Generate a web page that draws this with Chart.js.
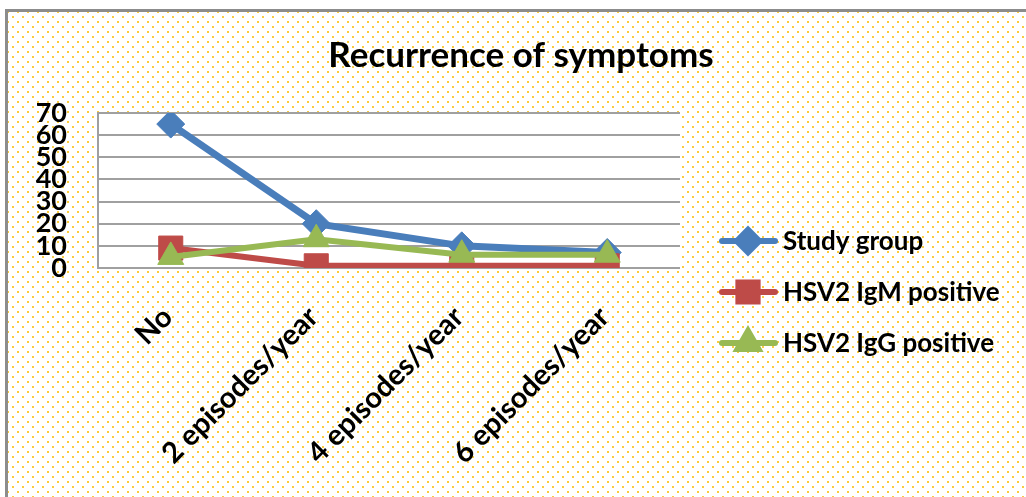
<!DOCTYPE html>
<html lang="en">
<head>
  <meta charset="UTF-8">
  <title>Recurrence of symptoms</title>
  <script src="https://cdn.jsdelivr.net/npm/chart.js"></script>
  <style>
    body { margin: 0; background: #fff; overflow: hidden; }
    #frame {
      position: absolute; left: 5px; top: 9px; width: 1100px; height: 600px;
      border-left: 3px solid #8c8c8c; border-top: 3px solid #8c8c8c;
      background-color: #fff;
      background-image:
        radial-gradient(circle, #fbcb3c 0.9px, transparent 1.3px),
        radial-gradient(circle, #fbcb3c 0.9px, transparent 1.3px);
      background-size: 10px 10px, 10px 10px;
      background-position: 0 0, 5px 5px;
    }
    #chart { position: absolute; left: 0; top: 0; }
  </style>
</head>
<body>
  <div id="frame"></div>
  <canvas id="chart" width="1026" height="497"></canvas>

  <script>
    const chartTitle = 'Recurrence of symptoms';
    const categories = ['No', '2 episodes/year', '4 episodes/year', '6 episodes/year'];
    const seriesNames = ['Study group', 'HSV2 IgM positive', 'HSV2 IgG positive'];
    const studyGroup = [65, 20, 10, 7];
    const igmPositive = [9, 1, 1, 1];
    const iggPositive = [5, 13, 6, 6];
    const yTicks = [0, 10, 20, 30, 40, 50, 60, 70];

    const font = 'Lato, "Open Sans", sans-serif';
    const colors = ['#4a7ebb', '#be4b48', '#98b954'];

    // white plot area + title + legend
    const decor = {
      id: 'decor',
      beforeDraw(chart) {
        const { ctx, chartArea: a } = chart;
        ctx.save();
        ctx.fillStyle = '#fff';
        ctx.fillRect(a.left, a.top, a.right - a.left, a.bottom - a.top);
        ctx.restore();
      },
      afterDraw(chart) {
        const { ctx, chartArea: a } = chart;
        ctx.save();
        ctx.fillStyle = '#000';
        ctx.font = 'bold 35px ' + font;
        ctx.textAlign = 'center';
        ctx.textBaseline = 'middle';
        ctx.fillText(chartTitle, 521, 56);

        chart.data.datasets.forEach((ds, i) => {
          const y = 241 + i * 51;
          const x0 = a.right + 42;
          ctx.strokeStyle = ds.borderColor;
          ctx.lineWidth = 6;
          ctx.lineCap = 'round';
          ctx.beginPath();
          ctx.moveTo(x0, y);
          ctx.lineTo(x0 + 53, y);
          ctx.stroke();
          Chart.helpers.drawPoint(ctx, {
            pointStyle: ds.pointStyle,
            radius: ds.pointRadius * 0.8,
            borderWidth: 1,
            rotation: 0
          }, x0 + 26, y);
          ctx.fillStyle = ds.borderColor;
          ctx.fill();
          ctx.fillStyle = '#000';
          ctx.font = 'bold 26px ' + font;
          ctx.textAlign = 'left';
          ctx.textBaseline = 'middle';
          ctx.fillText(ds.label, x0 + 61, y + 1);
        });
        ctx.restore();
      }
    };

    function series(i, data, style, radius, width, order) {
      return {
        label: seriesNames[i], data,
        borderColor: colors[i], backgroundColor: colors[i],
        borderWidth: width, pointStyle: style, pointRadius: radius,
        pointBorderWidth: 1, pointHoverRadius: radius, order
      };
    }

    new Chart(document.getElementById('chart'), {
      type: 'line',
      data: {
        labels: categories,
        datasets: [
          series(0, studyGroup, 'rectRot', 14, 7, 3),
          series(1, igmPositive, 'rect', 17, 6, 2),
          series(2, iggPositive, 'triangle', 15, 6, 1)
        ]
      },
      options: {
        responsive: false,
        animation: false,
        layout: { padding: { top: 113, left: 0, right: 0, bottom: 0 } },
        plugins: { legend: { display: false }, title: { display: false }, tooltip: { enabled: false } },
        scales: {
          x: {
            offset: true,
            grid: { display: false },
            border: { display: false },
            ticks: {
              color: '#000', font: { family: font, size: 29, weight: 'bold' },
              minRotation: 45, maxRotation: 45, autoSkip: false,
              padding: 24, labelOffset: -3
            },
            afterFit: s => { s.height = 229; }
          },
          y: {
            min: 0, max: 70,
            afterBuildTicks: s => { s.ticks = yTicks.map(v => ({ value: v })); },
            grid: { color: '#a0a0a0', lineWidth: 2, drawTicks: false },
            border: { display: true, color: '#a0a0a0', width: 2 },
            ticks: {
              color: '#000', font: { family: font, size: 27, weight: 'bold' },
              autoSkip: false, padding: 31
            },
            afterFit: s => { s.width = 98; }
          },
          yR: {
            position: 'right',
            display: true,
            grid: { display: false },
            border: { display: false },
            ticks: { display: false },
            afterFit: s => { s.width = 346; }
          }
        }
      },
      plugins: [decor]
    });
  </script>
</body>
</html>
